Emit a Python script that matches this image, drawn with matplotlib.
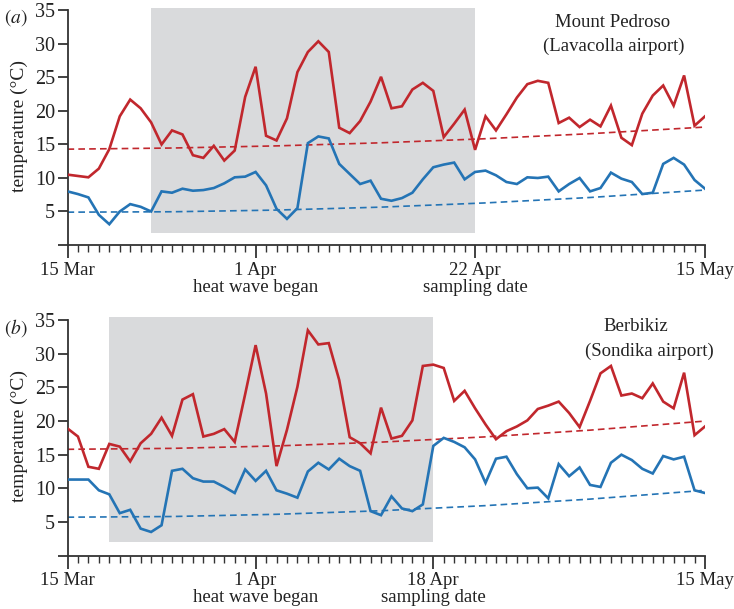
import matplotlib
matplotlib.use("Agg")
import matplotlib.pyplot as plt
from matplotlib.patches import Rectangle
from matplotlib.ticker import MultipleLocator

plt.rcParams['font.family'] = ['Liberation Serif', 'DejaVu Serif']
plt.rcParams['mathtext.fontset'] = 'stix'

# x positions are axis tick indices (one tick per day, 0 = 15 Mar, 61 = 15 May)
days = list(range(62))

# Panel (a) Mount Pedroso (Lavacolla airport)
a_max = [10.5, 10.3, 10.1, 11.4, 14.3, 19.2, 21.7, 20.4, 18.3, 15.0,
         17.1, 16.5, 13.4, 13.0, 14.8, 12.6, 14.1, 22.1, 26.6, 16.3,
         15.6, 18.9, 25.8, 28.8, 30.4, 28.8, 17.5, 16.7, 18.5, 21.4,
         25.1, 20.4, 20.7, 23.2, 24.2, 23.0, 16.1, 18.1, 20.2, 14.2,
         19.2, 17.1, 19.5, 22.0, 24.0, 24.5, 24.2, 18.2, 19.0, 17.6,
         18.7, 17.7, 20.8, 16.0, 14.9, 19.6, 22.3, 23.8, 20.8, 25.3,
         17.8, 19.2]
a_min = [8.0, 7.6, 7.1, 4.5, 3.1, 5.0, 6.1, 5.7, 5.0, 8.0,
         7.8, 8.4, 8.1, 8.2, 8.5, 9.2, 10.1, 10.2, 10.9, 8.9,
         5.4, 3.9, 5.5, 15.2, 16.2, 15.9, 12.1, 10.6, 9.1, 9.6,
         6.9, 6.6, 7.0, 7.8, 9.8, 11.6, 12.0, 12.3, 9.8, 10.9,
         11.1, 10.4, 9.4, 9.1, 10.1, 10.0, 10.2, 8.0, 9.1, 10.0,
         8.0, 8.5, 10.8, 9.9, 9.4, 7.6, 7.8, 12.1, 13.0, 12.0,
         9.7, 8.4]

# Panel (b) Berbikiz (Sondika airport)
b_max = [18.9, 17.7, 13.2, 12.9, 16.6, 16.2, 14.0, 16.7, 18.1, 20.5,
         17.8, 23.2, 24.0, 17.7, 18.1, 18.8, 16.9, 24.0, 31.3, 24.1,
         13.3, 18.7, 25.1, 33.5, 31.4, 31.6, 26.1, 17.6, 16.7, 15.2,
         22.0, 17.4, 17.8, 20.1, 28.2, 28.4, 27.9, 23.0, 24.5, 21.9,
         19.5, 17.3, 18.5, 19.2, 20.1, 21.8, 22.3, 22.9, 21.2, 19.1,
         23.0, 27.1, 28.2, 23.8, 24.1, 23.4, 25.6, 22.9, 21.9, 27.2,
         17.9, 19.2]
b_min = [11.3, 11.3, 11.3, 9.7, 9.1, 6.3, 6.8, 4.0, 3.5, 4.5,
         12.6, 12.9, 11.5, 11.0, 11.0, 10.2, 9.3, 12.8, 11.1, 12.6,
         9.7, 9.2, 8.6, 12.5, 13.8, 12.8, 14.4, 13.3, 12.6, 6.6,
         6.0, 8.8, 7.0, 6.6, 7.6, 16.3, 17.5, 16.9, 16.1, 14.3,
         10.8, 14.4, 14.7, 12.1, 10.0, 10.1, 8.5, 13.6, 11.8, 13.1,
         10.5, 10.2, 13.8, 15.0, 14.2, 12.9, 12.2, 14.8, 14.3, 14.7,
         9.7, 9.3]

# Trend lines (read at a few positions)
trend_x = [0, 10, 20, 30, 40, 50, 61]
a_max_trend = [14.3, 14.47, 14.79, 15.25, 15.86, 16.61, 17.6]
a_min_trend = [4.9, 4.96, 5.21, 5.65, 6.28, 7.09, 8.2]
b_max_trend = [15.8, 15.94, 16.30, 16.87, 17.65, 18.65, 20.0]
b_min_trend = [5.7, 5.8, 6.13, 6.66, 7.42, 8.39, 9.7]

# Shaded periods: (x start, x end, y bottom, y top)
a_shade = (8, 39, 1.8, 35.3)
b_shade = (4, 35, 2.0, 35.5)

a_ticks = [0, 18, 39, 61]
a_labels = ['15 Mar', '1 Apr\nheat wave began', '22 Apr\nsampling date', '15 May']
b_ticks = [0, 18, 35, 61]
b_labels = ['15 Mar', '1 Apr\nheat wave began', '18 Apr\nsampling date', '15 May']

y_ticks = [0, 5, 10, 15, 20, 25, 30, 35]
y_labels = ['', '5', '10', '15', '20', '25', '30', '35']

RED = '#c1272d'
BLUE = '#2474b5'
SHADE = '#d9dadc'
TXT = '#222222'

fig = plt.figure(figsize=(7.34, 6.09), dpi=100)
left = 67.5 / 734
width = (705 - 67.5) / 734
ax_a = fig.add_axes([left, 1 - 245 / 609, width, 237.9 / 609])
ax_b = fig.add_axes([left, 1 - 555.5 / 609, width, 238.6 / 609])


def draw(ax, tmax, tmin, tmax_tr, tmin_tr, shade, ticks, labels, titles, letter):
    ax.add_patch(Rectangle((shade[0], shade[2]), shade[1] - shade[0], shade[3] - shade[2],
                           facecolor=SHADE, edgecolor='none', zorder=0))
    ax.plot(trend_x, tmax_tr, color=RED, lw=1.2, ls=(0, (4, 2.5)), zorder=2)
    ax.plot(trend_x, tmin_tr, color=BLUE, lw=1.2, ls=(0, (4, 2.5)), zorder=2)
    ax.plot(days, tmax, color=RED, lw=1.9, zorder=3, solid_joinstyle='miter')
    ax.plot(days, tmin, color=BLUE, lw=1.9, zorder=3, solid_joinstyle='miter')
    ax.set_xlim(0, 61)
    ax.set_ylim(0, 35.5)
    for s in ['top', 'right']:
        ax.spines[s].set_visible(False)
    ax.spines['left'].set_bounds(0, 35)
    ax.spines['bottom'].set_bounds(0, 61)
    for s in ['left', 'bottom']:
        ax.spines[s].set_linewidth(1.3)
        ax.spines[s].set_color('#333333')
    ax.set_yticks(y_ticks)
    ax.set_yticklabels(y_labels)
    ax.set_xticks(ticks)
    ax.set_xticklabels(labels, linespacing=1.0)
    ax.xaxis.set_minor_locator(MultipleLocator(1))
    ax.tick_params(axis='y', direction='out', length=7, width=1.3, color='#333333',
                   labelsize=14.5, pad=2, labelcolor=TXT)
    ax.tick_params(axis='x', which='major', direction='out', length=9, width=1.3,
                   color='#333333', labelsize=13.5, pad=3, labelcolor=TXT)
    ax.tick_params(axis='x', which='minor', direction='out', length=5, width=1.0,
                   color='#333333')
    ax.set_ylabel('temperature (°C)', fontsize=14, color=TXT, labelpad=5)
    for (tx, ty, s) in titles:
        ax.text(tx, ty, s, ha='center', va='top', fontsize=13.5, color=TXT)
    ax.text(-0.1, 1.0, letter, transform=ax.transAxes, fontsize=14,
            ha='left', va='top', color=TXT)


draw(ax_a, a_max, a_min, a_max_trend, a_min_trend, a_shade, a_ticks, a_labels,
     [(52.2, 34.4, 'Mount Pedroso'), (52.3, 31.0, '(Lavacolla airport)')],
     r'$(\mathit{a})$')
draw(ax_b, b_max, b_min, b_max_trend, b_min_trend, b_shade, b_ticks, b_labels,
     [(54.4, 35.4, 'Berbikiz'), (55.7, 31.6, '(Sondika airport)')],
     r'$(\mathit{b})$')

fig.savefig('out.png', dpi=100)
